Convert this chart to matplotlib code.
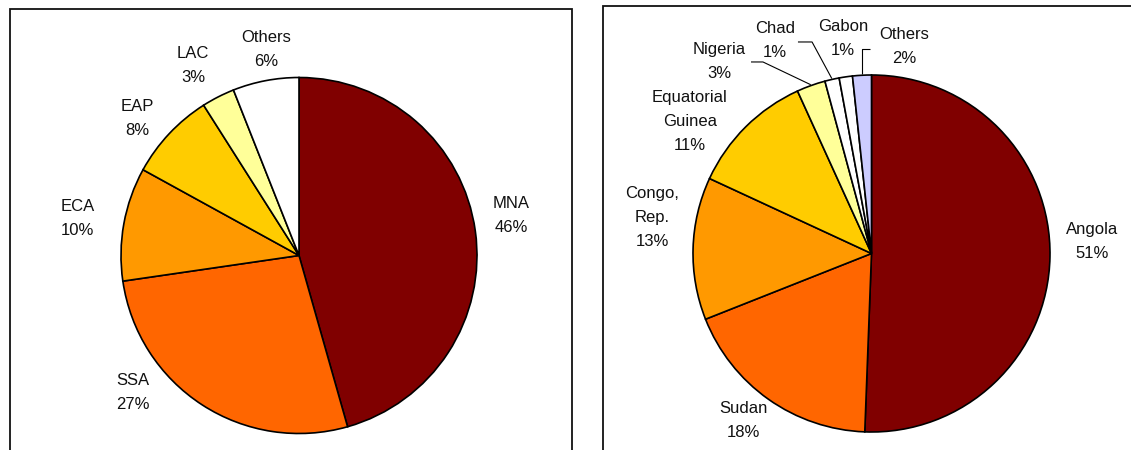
import matplotlib
matplotlib.use("Agg")
import matplotlib.pyplot as plt
import matplotlib.patches as mpatches
import matplotlib.transforms as mtransforms
import numpy as np

plt.rcParams['font.family'] = ['Liberation Sans', 'DejaVu Sans']

# ---------------- data ----------------
left_categories = ["MNA", "SSA", "ECA", "EAP", "LAC", "Others"]
left_values = [45.6, 27.1, 10.3, 8.0, 3.0, 6.0]
left_colors = ["#800000", "#FF6600", "#FF9900", "#FFCC00", "#FFFF99", "#FFFFFF"]

right_categories = ["Angola", "Sudan", "Congo,\nRep.", "Equatorial\nGuinea",
                    "Nigeria", "Chad", "Gabon", "Others"]
right_values = [50.6, 18.4, 12.9, 11.3, 2.6, 1.3, 1.2, 1.7]
right_colors = ["#800000", "#FF6600", "#FF9900", "#FFCC00", "#FFFF99",
                "#FFFFFF", "#FFFFFF", "#CCCCFF"]

# ---------------- layout (label block centres, unit-radius coords) ----------------
left_label_pos = [(1.191, 0.222), (-0.933, -0.772), (-1.242, 0.208),
                  (-0.910, 0.770), (-0.596, 1.067), (-0.185, 1.160)]
right_label_pos = [(1.235, 0.070), (-0.720, -0.938), (-1.230, 0.204),
                   (-1.017, 0.742), (-0.854, 1.078), (-0.541, 1.193),
                   (-0.160, 1.202), (0.182, 1.157)]
# leader lines: index -> points before reaching the wedge edge
right_leaders = {4: [(-0.675, 1.073), (-0.608, 1.073)],
                 5: [(-0.412, 1.185), (-0.333, 1.185)],
                 7: [(-0.008, 1.146), (-0.053, 1.146)]}

W, H = 1131, 450
fig = plt.figure(figsize=(W / 100, H / 100), dpi=100)
fig.patch.set_facecolor("white")

LINE_PX = 24
FS = 12


def px_axes(cx, cy_top, r):
    return fig.add_axes([(cx - r) / W, (H - cy_top - r) / H, 2 * r / W, 2 * r / H])


def draw_pie(ax, values, colors, cats, label_pos, leaders=None):
    wedges, _ = ax.pie(values, colors=colors, startangle=90, counterclock=False,
                       radius=1.0,
                       wedgeprops=dict(edgecolor="black", linewidth=1.2))
    ax.set_xlim(-1, 1)
    ax.set_ylim(-1, 1)
    ax.set_aspect("auto")
    ax.axis("off")
    total = sum(values)
    for i, (cat, v, (lx, ly)) in enumerate(zip(cats, values, label_pos)):
        lines = cat.split("\n") + [f"{round(v / total * 100):d}%"]
        n = len(lines)
        for j, line in enumerate(lines):
            off = (j - (n - 1) / 2) * -LINE_PX
            tr = mtransforms.offset_copy(ax.transData, fig=fig, x=0, y=off, units="dots")
            ax.text(lx, ly, line, transform=tr, ha="center", va="center",
                    fontsize=FS, color="#111111", clip_on=False)
    if leaders:
        for i, pts in leaders.items():
            w = wedges[i]
            mid = np.deg2rad((w.theta1 + w.theta2) / 2)
            ex, ey = np.cos(mid) * 1.005, np.sin(mid) * 1.005
            xs = [p[0] for p in pts] + [ex]
            ys = [p[1] for p in pts] + [ey]
            if i == 7:
                xs[-1] = xs[-2]
            ax.plot(xs, ys, color="black", linewidth=0.8, clip_on=False,
                    solid_capstyle="butt")


axL = px_axes(299, 255.5, 178)
draw_pie(axL, left_values, left_colors, left_categories, left_label_pos)

axR = px_axes(871.5, 253.5, 178.5)
draw_pie(axR, right_values, right_colors, right_categories, right_label_pos,
         right_leaders)

# panel borders
for (x0, x1, ytop) in [(9.5, 571.5, 9.5), (602.5, 1140, 6)]:
    rect = mpatches.Rectangle((x0 / W, -0.1), (x1 - x0) / W, (H - ytop) / H + 0.1,
                              transform=fig.transFigure, fill=False,
                              edgecolor="#111111", linewidth=1.3, clip_on=False)
    fig.add_artist(rect)

fig.savefig("out.png", dpi=100, facecolor="white")
